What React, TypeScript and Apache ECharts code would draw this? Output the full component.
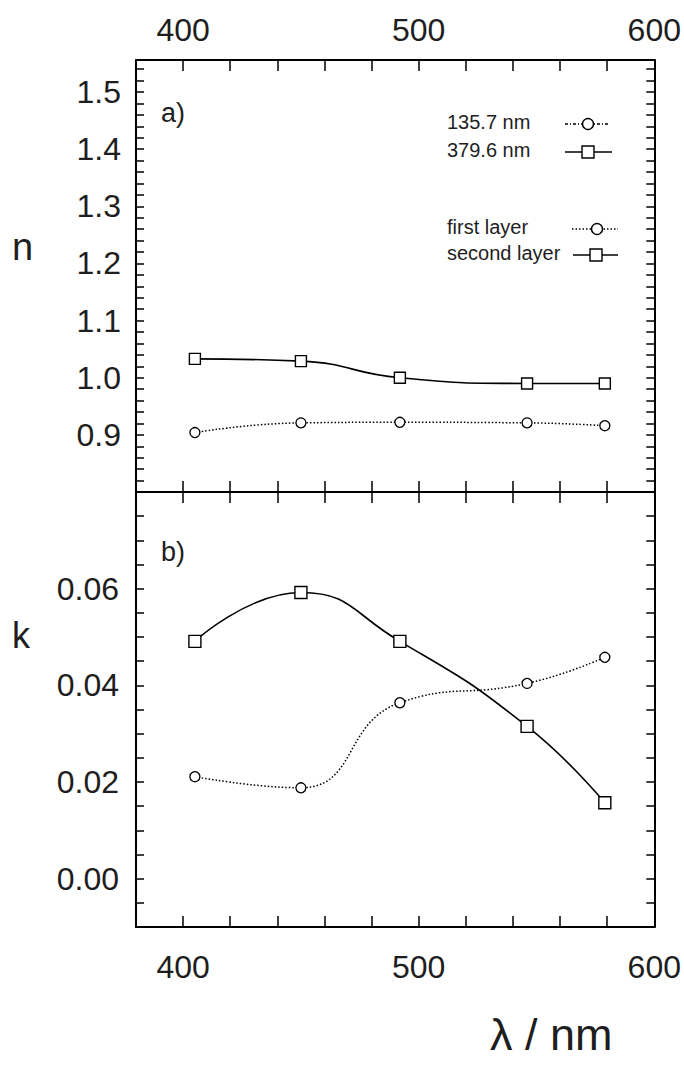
import React, { useEffect, useRef } from "react";
import * as echarts from "echarts";

// ---- data ----
const wavelengths = [405, 450, 492, 546, 579];
const nFirstLayer = [0.904, 0.921, 0.922, 0.921, 0.916];
const nSecondLayer = [1.033, 1.029, 1.0, 0.99, 0.99];
const kFirstLayer = [0.0211, 0.0188, 0.0364, 0.0404, 0.0458];
const kSecondLayer = [0.0491, 0.0592, 0.0491, 0.0315, 0.0157];

const xTickLabels = [400, 500, 600];
const nTickLabels = [0.9, 1.0, 1.1, 1.2, 1.3, 1.4, 1.5];
const kTickLabels = [0.0, 0.02, 0.04, 0.06];

const topLegendNames = ["135.7 nm", "379.6 nm"];
const bottomLegendNames = ["first layer", "second layer"];

const FONT = "'Liberation Sans', Arial, sans-serif";
const TEXT = "#1e1e1e";

const pairs = (ys: number[]) => wavelengths.map((x, i) => [x, ys[i]]);
const near = (list: number[], v: number) => list.some((t) => Math.abs(t - v) < 1e-6);

export default function App() {
  const ref = useRef<HTMLDivElement>(null);

  useEffect(() => {
    if (!ref.current) return;
    const chart = echarts.init(ref.current, undefined, { renderer: "svg" });

    const axisLine = { show: true, onZero: false, lineStyle: { color: "#000", width: 2 } };
    const tick = (len: number) => ({ show: true, inside: true, length: len, lineStyle: { color: "#000", width: 1.5 } });

    const xBase = {
      type: "value" as const,
      min: 380,
      max: 600,
      interval: 20,
      axisLine,
      splitLine: { show: false },
      axisTick: tick(11),
    };
    const xLabel = {
      show: true,
      fontSize: 32,
      fontFamily: FONT,
      color: TEXT,
      formatter: (v: number) => (near(xTickLabels, v) ? String(Math.round(v)) : ""),
    };

    const nBase = {
      type: "value" as const,
      min: 0.8,
      max: 1.556,
      interval: 0.02,
      gridIndex: 0,
      axisLine,
      splitLine: { show: false },
      axisTick: tick(8),
    };
    const kBase = {
      type: "value" as const,
      min: -0.01,
      max: 0.08,
      interval: 0.005,
      gridIndex: 1,
      axisLine,
      splitLine: { show: false },
      axisTick: tick(8),
    };

    const legendItems: any[] = [];
    const addLegend = (
      name: string,
      ty: number,
      x1: number,
      x2: number,
      cx: number,
      kind: "circle" | "rect",
      dash: number[] | null
    ) => {
      legendItems.push({
        type: "text",
        left: 447,
        top: ty - 12,
        style: { text: name, fontSize: 20, fontFamily: FONT, fill: TEXT },
        z: 10,
      });
      legendItems.push({
        type: "line",
        shape: { x1, y1: ty, x2, y2: ty },
        style: { stroke: "#000", lineWidth: 1.4, lineDash: dash || undefined },
        z: 10,
      });
      if (kind === "circle") {
        legendItems.push({
          type: "circle",
          shape: { cx, cy: ty, r: 5.5 },
          style: { fill: "#fff", stroke: "#000", lineWidth: 1.4 },
          z: 11,
        });
      } else {
        legendItems.push({
          type: "rect",
          shape: { x: cx - 6, y: ty - 6, width: 12, height: 12 },
          style: { fill: "#fff", stroke: "#000", lineWidth: 1.4 },
          z: 11,
        });
      }
    };
    addLegend(topLegendNames[0], 124, 565, 610, 588, "circle", [3, 2, 1, 2]);
    addLegend(topLegendNames[1], 152, 565, 612, 588, "rect", null);
    addLegend(bottomLegendNames[0], 229, 572, 618, 597, "circle", [1.5, 2]);
    addLegend(bottomLegendNames[1], 255, 573, 618, 596, "rect", null);

    const circleSeries = (name: string, data: number[], xi: number, yi: number) => ({
      name,
      type: "line" as const,
      xAxisIndex: xi,
      yAxisIndex: yi,
      data: pairs(data),
      smooth: 0.5,
      symbol: "circle",
      symbolSize: 10,
      lineStyle: { color: "#000", width: 1.5, type: [1.5, 2] },
      itemStyle: { color: "#fff", borderColor: "#000", borderWidth: 1.3 },
      z: 3,
    });
    const squareSeries = (name: string, data: number[], xi: number, yi: number, size: number) => ({
      name,
      type: "line" as const,
      xAxisIndex: xi,
      yAxisIndex: yi,
      data: pairs(data),
      smooth: 0.5,
      symbol: "rect",
      symbolSize: size,
      lineStyle: { color: "#000", width: 1.6, type: "solid" },
      itemStyle: { color: "#fff", borderColor: "#000", borderWidth: 1.4 },
      z: 4,
    });

    chart.setOption({
      animation: false,
      backgroundColor: "#fff",
      grid: [
        { left: 136, top: 60, width: 519, height: 432, show: false },
        { left: 136, top: 492, width: 519, height: 435, show: false },
      ],
      xAxis: [
        { ...xBase, gridIndex: 0, position: "top", axisLabel: { ...xLabel, margin: 14 } },
        { ...xBase, gridIndex: 0, position: "bottom", axisLabel: { show: false } },
        { ...xBase, gridIndex: 1, position: "top", axisLabel: { show: false } },
        { ...xBase, gridIndex: 1, position: "bottom", axisLabel: { ...xLabel, margin: 24 } },
      ],
      yAxis: [
        {
          ...nBase,
          position: "left",
          axisLabel: {
            show: true,
            fontSize: 32,
            fontFamily: FONT,
            color: TEXT,
            margin: 15,
            formatter: (v: number) => (near(nTickLabels, v) ? v.toFixed(1) : ""),
          },
        },
        { ...nBase, position: "right", axisLabel: { show: false } },
        {
          ...kBase,
          position: "left",
          axisLabel: {
            show: true,
            fontSize: 32,
            fontFamily: FONT,
            color: TEXT,
            margin: 17,
            formatter: (v: number) => (near(kTickLabels, v) ? v.toFixed(2) : ""),
          },
        },
        { ...kBase, position: "right", axisLabel: { show: false } },
      ],
      series: [
        circleSeries(topLegendNames[0], nFirstLayer, 0, 0),
        squareSeries(topLegendNames[1], nSecondLayer, 0, 0, 11),
        circleSeries(bottomLegendNames[0], kFirstLayer, 3, 2),
        squareSeries(bottomLegendNames[1], kSecondLayer, 3, 2, 12),
      ],
      graphic: [
        { type: "text", left: 12, top: 228, style: { text: "n", fontSize: 38, fontFamily: FONT, fill: TEXT } },
        { type: "text", left: 12, top: 617, style: { text: "k", fontSize: 36, fontFamily: FONT, fill: TEXT } },
        { type: "text", left: 161, top: 99, style: { text: "a)", fontSize: 27, fontFamily: FONT, fill: TEXT } },
        { type: "text", left: 161, top: 538, style: { text: "b)", fontSize: 27, fontFamily: FONT, fill: TEXT } },
        { type: "text", left: 490, top: 1012, style: { text: "λ / nm", fontSize: 45, fontFamily: FONT, fill: TEXT } },
        ...legendItems,
      ],
    });

    return () => chart.dispose();
  }, []);

  return (
    <div
      ref={ref}
      style={{ position: "absolute", left: 0, top: 0, width: 684, height: 1067, background: "#fff" }}
    />
  );
}
